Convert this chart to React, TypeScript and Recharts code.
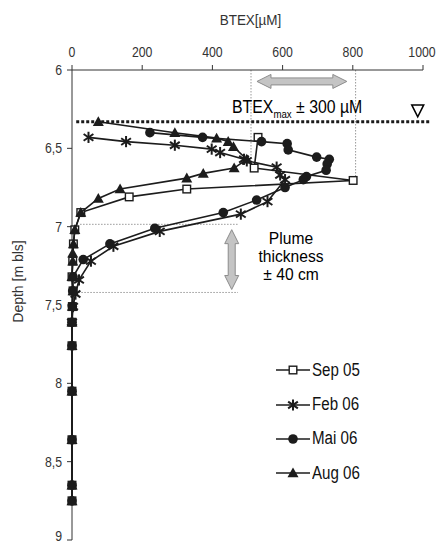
import React from 'react';
import { ScatterChart, Scatter, XAxis, YAxis, ReferenceLine, ReferenceDot, Legend } from 'recharts';

// ---------- data ----------
const xTicks = [0, 200, 400, 600, 800, 1000];
const yTicks = [6, 6.5, 7, 7.5, 8, 8.5, 9];

const seriesNames = ['Sep 05', 'Feb 06', 'Mai 06', 'Aug 06'];

const sepDepth = [6.43, 6.626, 6.705, 6.76, 6.81, 6.91, 7.02, 7.11, 7.22, 7.32, 7.41, 7.51, 7.61, 7.76, 8.05, 8.36, 8.65, 8.75];
const sepValue = [530, 519, 801, 327, 163, 25, 8, 4, 2, 0, 3, 1, 0, 0, 0, 0, 0, 0];

const febDepth = [6.43, 6.457, 6.48, 6.505, 6.527, 6.57, 6.58, 6.62, 6.67, 6.70, 6.84, 6.92, 7.03, 7.125, 7.22, 7.34, 7.43, 7.51, 7.61];
const febValue = [47, 154, 293, 398, 422, 490, 498, 583, 593, 607, 557, 481, 250, 118, 54, 20, 10, 3, 0];

const maiDepth = [6.40, 6.43, 6.457, 6.47, 6.51, 6.556, 6.57, 6.60, 6.64, 6.68, 6.70, 6.75, 6.83, 6.91, 7.01, 7.11, 7.21, 7.32, 7.41, 7.51, 7.61, 7.76, 8.05, 8.36, 8.65, 8.75];
const maiValue = [222, 372, 540, 613, 616, 697, 733, 727, 724, 668, 659, 607, 526, 431, 236, 108, 32, 3, 2, 1, 0, 0, 0, 0, 0, 0];

const augDepth = [6.33, 6.40, 6.435, 6.457, 6.49, 6.57, 6.626, 6.66, 6.69, 6.76, 6.82, 6.91, 7.02, 7.11, 7.17, 7.22, 7.32, 7.41, 7.51, 7.61, 7.76, 8.05, 8.36, 8.65, 8.75];
const augValue = [75, 293, 412, 445, 460, 498, 462, 374, 327, 137, 75, 25, 8, 4, 2, 2, 0, 3, 1, 0, 0, 0, 0, 0, 0];

// annotation values
const groundwaterDepth = 6.33;
const btexMax = 808;
const btexLow = 510;
const plumeTop = 6.985;
const plumeBottom = 7.42;

const toRows = (d: number[], v: number[]) => d.map((dd, i) => ({ d: dd, v: v[i] }));

const INK = '#1c1c1c';
const FONT = '"Liberation Sans", Arial, sans-serif';

// ---------- markers ----------
type Kind = 'square' | 'star' | 'circle' | 'triangle';
const marker = (kind: Kind, cx: number, cy: number, key?: string) => {
  if (kind === 'square')
    return <rect key={key} x={cx - 3.8} y={cy - 3.8} width={7.6} height={7.6} fill="#fff" stroke={INK} strokeWidth={1.4} />;
  if (kind === 'circle') return <circle key={key} cx={cx} cy={cy} r={4.8} fill={INK} />;
  if (kind === 'triangle')
    return <polygon key={key} points={`${cx},${cy - 5.5} ${cx - 5.5},${cy + 4.3} ${cx + 5.5},${cy + 4.3}`} fill={INK} />;
  const r = 5.6;
  return (
    <g key={key} stroke={INK} strokeWidth={2}>
      <line x1={cx} y1={cy - r} x2={cx} y2={cy + r} />
      <line x1={cx - r * 0.87} y1={cy - r * 0.6} x2={cx + r * 0.87} y2={cy + r * 0.6} />
      <line x1={cx - r * 0.87} y1={cy + r * 0.6} x2={cx + r * 0.87} y2={cy - r * 0.6} />
    </g>
  );
};
const shapeOf = (kind: Kind) => (p: any) => marker(kind, p.cx, p.cy);

const kinds: Kind[] = ['square', 'star', 'circle', 'triangle'];

// ---------- ticks / labels ----------
const XTick = (p: any) => (
  <g transform={`translate(${p.x},${p.y})`}>
    <text x={0} y={0} dy={-6} textAnchor="middle" fontSize={15} fill="#333" fontFamily={FONT} transform="scale(0.82,1)">
      {p.payload.value}
    </text>
  </g>
);
const YTick = (p: any) => (
  <g transform={`translate(${p.x - 3},${p.y})`}>
    <text x={0} y={0} dy={5} textAnchor="end" fontSize={15} fill="#333" fontFamily={FONT} transform="scale(0.82,1)">
      {String(p.payload.value).replace('.', ',')}
    </text>
  </g>
);
const XLabel = (p: any) => {
  const vb = p.viewBox || { x: 72, y: 40, width: 351, height: 30 };
  return (
    <g transform={`translate(${vb.x + vb.width / 2 + 3},${vb.y - 15})`}>
      <text x={0} y={0} textAnchor="middle" fontSize={15} fill="#333" fontFamily={FONT} transform="scale(0.9,1)">
        BTEX[µM]
      </text>
    </g>
  );
};
const YLabel = (p: any) => {
  const vb = p.viewBox || { x: 42, y: 70, width: 30, height: 470 };
  return (
    <text transform={`translate(${vb.x - 19},${vb.y + vb.height * 0.45}) rotate(-90)`} textAnchor="middle" fontSize={14} fill="#333" fontFamily={FONT}>
      Depth [m bls]
    </text>
  );
};

// ---------- annotation shapes ----------
const arrowPts = (x1: number, y1: number, x2: number, y2: number, sw: number, hw: number, hl: number) => {
  const len = Math.hypot(x2 - x1, y2 - y1) || 1;
  const ux = (x2 - x1) / len, uy = (y2 - y1) / len;
  const nx = -uy, ny = ux;
  const P = (bx: number, by: number, a: number, b: number) => `${bx + ux * a + nx * b},${by + uy * a + ny * b}`;
  return [
    P(x1, y1, 0, 0),
    P(x1, y1, hl, hw / 2),
    P(x1, y1, hl, sw / 2),
    P(x2, y2, -hl, sw / 2),
    P(x2, y2, -hl, hw / 2),
    P(x2, y2, 0, 0),
    P(x2, y2, -hl, -hw / 2),
    P(x2, y2, -hl, -sw / 2),
    P(x1, y1, hl, -sw / 2),
    P(x1, y1, hl, -hw / 2),
  ].join(' ');
};
const ArrowShape = (p: any) => (
  <polygon points={arrowPts(p.x1, p.y1, p.x2, p.y2, 7, 14, 14)} fill="#c4c4c4" stroke="#8c8c8c" strokeWidth={1} />
);

const BtexText = (p: any) => (
  <g transform={`translate(${p.cx},${p.cy})`}>
    <text x={0} y={0} fontSize={18} fill="#000" fontFamily={FONT} transform="scale(0.88,1)">
      BTEX
      <tspan fontSize={11} dy={5}>max</tspan>
      <tspan dy={-5}> ± 300 µM</tspan>
    </text>
  </g>
);
const PlumeText = (p: any) => (
  <g transform={`translate(${p.cx},${p.cy})`} fontSize={17} fill="#000" fontFamily={FONT}>
    <text x={0} y={0} textAnchor="middle" transform="scale(0.92,1)">
      <tspan x={0} dy={0}>Plume</tspan>
      <tspan x={0} dy={18}>thickness</tspan>
      <tspan x={0} dy={18}>± 40 cm</tspan>
    </text>
  </g>
);
const WaterTriangle = (p: any) => (
  <polygon points={`${p.cx - 6},${p.cy} ${p.cx + 6},${p.cy} ${p.cx},${p.cy + 12}`} fill="none" stroke="#000" strokeWidth={1.5} />
);

// ---------- legend ----------
const LegendContent = () => (
  <div style={{ fontFamily: FONT }}>
    {seriesNames.map((name, i) => (
      <div key={name} style={{ display: 'flex', alignItems: 'center', height: 34.4 }}>
        <svg width={34} height={14} style={{ overflow: 'visible' }}>
          <line x1={0} y1={7} x2={34} y2={7} stroke={INK} strokeWidth={1.6} />
          {marker(kinds[i], 17, 7)}
        </svg>
        <span style={{ marginLeft: 2, fontSize: 18, color: '#111', display: 'inline-block', transform: 'scaleX(0.84)', transformOrigin: 'left center', whiteSpace: 'nowrap' }}>
          {name}
        </span>
      </div>
    ))}
  </div>
);

const series = [
  toRows(sepDepth, sepValue),
  toRows(febDepth, febValue),
  toRows(maiDepth, maiValue),
  toRows(augDepth, augValue),
];

export default function App() {
  return (
    <div style={{ position: 'absolute', left: 0, top: 0, width: 438, height: 545, background: '#fff' }}>
      <ScatterChart width={438} height={545} margin={{ top: 40, right: 15, bottom: 5, left: 42 }}>
        <XAxis
          type="number"
          dataKey="v"
          orientation="top"
          domain={[0, 1000]}
          ticks={xTicks}
          height={30}
          stroke="#333"
          tickSize={5}
          tick={<XTick />}
          label={<XLabel />}
        />
        <YAxis
          type="number"
          dataKey="d"
          domain={[6, 9]}
          reversed
          ticks={yTicks}
          width={30}
          stroke="#333"
          tickSize={5}
          tick={<YTick />}
          label={<YLabel />}
        />
        <ReferenceLine segment={[{ x: btexLow, y: 6 }, { x: btexLow, y: 6.626 }]} stroke="#999" strokeDasharray="1.5 1.5" ifOverflow="visible" />
        <ReferenceLine segment={[{ x: btexMax, y: 6 }, { x: btexMax, y: 6.705 }]} stroke="#999" strokeDasharray="1.5 1.5" ifOverflow="visible" />
        <ReferenceLine segment={[{ x: 23, y: plumeTop }, { x: 473, y: plumeTop }]} stroke="#999" strokeDasharray="1.5 1.5" ifOverflow="visible" />
        <ReferenceLine segment={[{ x: 18, y: plumeBottom }, { x: 473, y: plumeBottom }]} stroke="#999" strokeDasharray="1.5 1.5" ifOverflow="visible" />
        <ReferenceLine segment={[{ x: 12, y: groundwaterDepth }, { x: 1020, y: groundwaterDepth }]} stroke="#1a1a1a" strokeWidth={3} strokeDasharray="3 2" ifOverflow="visible" />
        <ReferenceLine segment={[{ x: 527, y: 6.073 }, { x: 783, y: 6.073 }]} shape={ArrowShape} ifOverflow="visible" />
        <ReferenceLine segment={[{ x: 455, y: 7.019 }, { x: 455, y: 7.401 }]} shape={ArrowShape} ifOverflow="visible" />
        <ReferenceDot x={456} y={6.276} r={0} shape={BtexText} ifOverflow="visible" />
        <ReferenceDot x={985} y={6.223} r={0} shape={WaterTriangle} ifOverflow="visible" />
        <ReferenceDot x={624} y={7.108} r={0} shape={PlumeText} ifOverflow="visible" />
        {series.map((rows, i) => (
          <Scatter
            key={seriesNames[i]}
            name={seriesNames[i]}
            data={rows}
            line={{ stroke: INK, strokeWidth: 1.6 }}
            lineType="joint"
            shape={shapeOf(kinds[i])}
            isAnimationActive={false}
          />
        ))}
        <Legend
          layout="vertical"
          align="center"
          verticalAlign="middle"
          content={<LegendContent />}
          wrapperStyle={{ position: 'absolute', left: 276, top: 353, width: 140 }}
        />
      </ScatterChart>
    </div>
  );
}
